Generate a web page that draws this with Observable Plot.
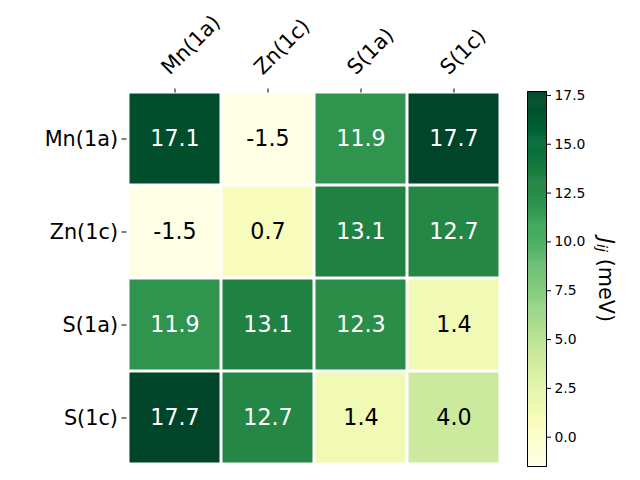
<!DOCTYPE html>
<html>
<head>
<meta charset="utf-8">
<script src="https://cdn.jsdelivr.net/npm/d3@7"></script>
<script src="https://cdn.jsdelivr.net/npm/@observablehq/plot@0.6"></script>
<style>
  html, body { margin: 0; padding: 0; background: white; }
  #wrap { position: relative; width: 640px; height: 480px; }
  #wrap svg { position: absolute; left: 0; top: 0; }
</style>
</head>
<body>
<div id="wrap"></div>
<script>
// ---- data ----
const sites = ["Mn(1a)", "Zn(1c)", "S(1a)", "S(1c)"];
const rowMn1a = [17.1, -1.5, 11.9, 17.7];
const rowZn1c = [-1.5, 0.7, 13.1, 12.7];
const rowS1a  = [11.9, 13.1, 12.3, 1.4];
const rowS1c  = [17.7, 12.7, 1.4, 4.0];
const colorbarTicks = [0, 2.5, 5, 7.5, 10, 12.5, 15, 17.5];
const vmin = -1.5, vmax = 17.7;
const ylgn = ["#ffffe5","#f7fcb9","#d9f0a3","#addd8e","#78c679","#41ab5d","#238443","#006837","#004529"];

const matrix = [rowMn1a, rowZn1c, rowS1a, rowS1c];
const cells = [];
matrix.forEach((row, i) => row.forEach((v, j) => cells.push({row: sites[i], col: sites[j], value: v})));

const stops = ylgn.map((_, k) => vmin + (vmax - vmin) * k / (ylgn.length - 1));
const colorScale = {type: "linear", domain: stops, range: ylgn, clamp: true};
const font = "DejaVu Sans, sans-serif";

const main = Plot.plot({
  width: 640, height: 480,
  marginLeft: 126.5, marginRight: 139.5, marginTop: 91.5, marginBottom: 16.2,
  style: {fontFamily: font, background: "white", color: "black"},
  x: {type: "band", domain: sites, padding: 0, axis: null},
  y: {type: "band", domain: sites, padding: 0, axis: null},
  color: colorScale,
  marks: [
    Plot.cell(cells, {x: "col", y: "row", fill: "value", inset: 1.5}),
    Plot.text(cells.filter(d => d.value > 8), {x: "col", y: "row", text: d => d.value.toFixed(1), fill: "white", fontSize: 22.2}),
    Plot.text(cells.filter(d => d.value <= 8), {x: "col", y: "row", text: d => d.value.toFixed(1), fill: "black", fontSize: 22.2}),
    Plot.axisY({anchor: "left", tickSize: 5, tickPadding: 4, fontSize: 20.8, label: null, stroke: "black", fill: "black"}),
    Plot.axisX({anchor: "top", tickSize: 4, tickFormat: () => "", label: null, stroke: "black"}),
    Plot.text(sites, {x: d => d, frameAnchor: "top", rotate: -45, textAnchor: "start", lineAnchor: "middle", dx: -10, dy: -21, fontSize: 20.8, fill: "black"})
  ]
});

const step = 0.05;
const ramp = d3.range(vmin, vmax, step);
const cbar = Plot.plot({
  width: 640, height: 480,
  marginLeft: 527, marginRight: 94, marginTop: 91, marginBottom: 14,
  style: {fontFamily: font, background: "transparent", color: "black"},
  x: {domain: [0, 1], axis: null},
  y: {domain: [vmin, vmax], axis: null},
  color: colorScale,
  marks: [
    Plot.rect(ramp, {x1: 0, x2: 1, y1: d => d, y2: d => Math.min(vmax, d + step * 1.6), fill: d => d + step / 2}),
    Plot.axisY({anchor: "right", ticks: colorbarTicks, tickSize: 4, tickPadding: 4, fontSize: 13.9, label: null, tickFormat: d => d.toFixed(1), stroke: "black", fill: "black"}),
    Plot.frame({stroke: "black", strokeWidth: 1})
  ]
});

const wrap = document.getElementById("wrap");
wrap.appendChild(main);
wrap.appendChild(cbar);

const lab = d3.select(cbar).append("text")
  .attr("transform", "translate(606,280) rotate(90)")
  .attr("text-anchor", "middle")
  .attr("dominant-baseline", "central")
  .attr("font-family", font)
  .attr("font-size", 20.8)
  .attr("fill", "black");
lab.append("tspan").attr("font-style", "italic").text("J");
lab.append("tspan").attr("font-style", "italic").attr("font-size", 14.5).attr("dy", 4).text("ij");
lab.append("tspan").attr("dy", -4).text(" (meV)");
</script>
</body>
</html>
